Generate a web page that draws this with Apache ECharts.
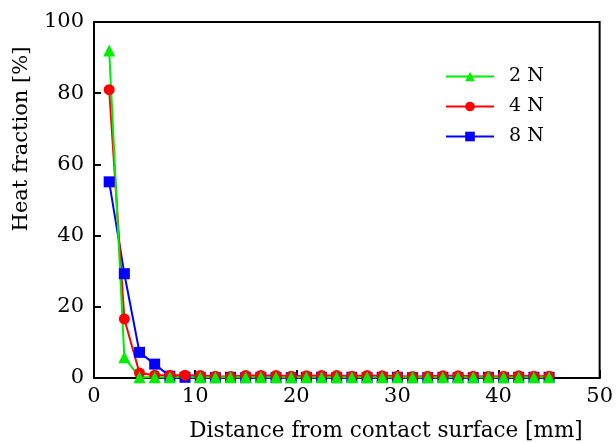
<!DOCTYPE html>
<html><head><meta charset="utf-8">
<script src="https://cdn.jsdelivr.net/npm/echarts@6/dist/echarts.min.js"></script>
<style>html,body{margin:0;padding:0;background:#fff}#c{width:616px;height:443px}</style>
</head><body><div id="c"></div>
<script>
const distances = [1.5,3,4.5,6,7.5,9,10.5,12,13.5,15,16.5,18,19.5,21,22.5,24,25.5,27,28.5,30,31.5,33,34.5,36,37.5,39,40.5,42,43.5,45];
const heat2N = [92,5.8,0.2,0.2,0.2,null,0.2,0.2,0.2,0.2,0.2,0.2,0.2,0.2,0.2,0.2,0.2,0.2,0.2,0.2,0.2,0.2,0.2,0.2,0.2,0.2,0.2,0.2,0.2,0.2];
const heat4N = [81,16.6,1.4,0.8,0.8,0.8,0.7,0.5,0.4,0.7,0.7,0.7,0.5,0.6,0.7,0.7,0.5,0.7,0.6,0.5,0.4,0.5,0.6,0.6,0.5,0.4,0.5,0.6,0.5,0.5];
const heat8N = [55.1,29.3,7.2,3.9,0.5,0.2,0.2,0.1,0.2,0.1,0.2,0.1,0.1,0.2,0.2,0.1,0.2,0.1,0.2,0.2,0.1,0.1,0.2,0.1,0.1,0.2,0.1,0.2,0.2,0.2];
const xTicks = [0,10,20,30,40,50];
const yTicks = [0,20,40,60,80,100];
const FONT = 'DejaVu Serif';
function pairs(ys){return distances.map((x,i)=>[x,ys[i]]);}
const chart = echarts.init(document.getElementById('c'));
chart.setOption({
  animation:false,
  textStyle:{fontFamily:FONT,color:'#000'},
  grid:{left:94,right:13,top:22,bottom:65,show:true,borderColor:'#000',borderWidth:2},
  legend:{orient:'vertical',left:440,top:62,itemWidth:48,itemHeight:12,itemGap:11,
    data:['2 N','4 N','8 N'],textStyle:{fontFamily:FONT,fontSize:19,color:'#000',padding:[0,0,0,10]}},
  xAxis:{type:'value',min:xTicks[0],max:xTicks[xTicks.length-1],interval:10,
    axisLine:{lineStyle:{color:'#000',width:2}},
    axisTick:{inside:true,length:8,lineStyle:{color:'#000',width:2}},
    axisLabel:{fontFamily:FONT,fontSize:21,color:'#000',margin:8},
    splitLine:{show:false}},
  yAxis:{type:'value',min:yTicks[0],max:yTicks[yTicks.length-1],interval:20,
    axisLine:{show:true,lineStyle:{color:'#000',width:2}},
    axisTick:{show:true,inside:true,length:7,lineStyle:{color:'#000',width:2}},
    axisLabel:{fontFamily:FONT,fontSize:21,color:'#000',margin:10},
    splitLine:{show:false}},
  graphic:[
    {type:'text',x:22,y:139,rotation:Math.PI/2,style:{text:'Heat fraction [%]',fontFamily:FONT,fontSize:21,fill:'#000',align:'center',verticalAlign:'middle'}},
    {type:'text',x:386,y:431,style:{text:'Distance from contact surface [mm]',fontFamily:FONT,fontSize:21.5,fill:'#000',align:'center',verticalAlign:'middle'}}
  ],
  series:[
    {name:'8 N',type:'line',data:pairs(heat8N),symbol:'rect',symbolSize:11,color:'#0000ff',lineStyle:{width:2},itemStyle:{color:'#0000ff'}},
    {name:'4 N',type:'line',data:pairs(heat4N),symbol:'circle',symbolSize:11,color:'#ff0000',lineStyle:{width:2},itemStyle:{color:'#ff0000'}},
    {name:'2 N',type:'line',data:pairs(heat2N),connectNulls:true,symbol:'triangle',symbolSize:12,color:'#00ee00',lineStyle:{width:2},itemStyle:{color:'#00ee00'}}
  ]
});
</script></body></html>
